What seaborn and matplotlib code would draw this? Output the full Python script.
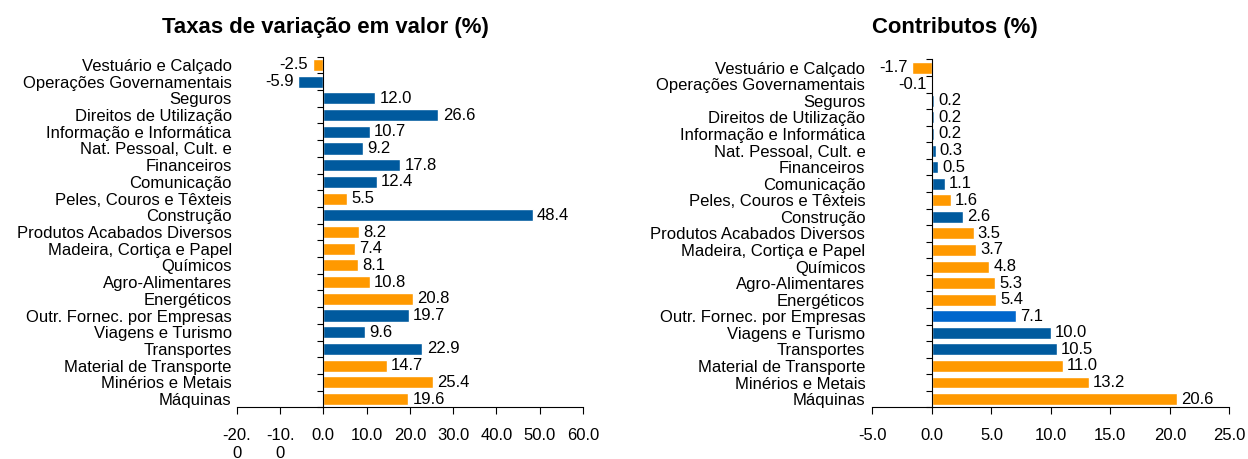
import numpy as np
import matplotlib
matplotlib.use('Agg')
import matplotlib.pyplot as plt
import seaborn as sns

# Dados (de cima para baixo)
categorias = ['Vestuário e Calçado', 'Operações Governamentais', 'Seguros',
              'Direitos de Utilização', 'Informação e Informática',
              'Nat. Pessoal, Cult. e', 'Financeiros', 'Comunicação',
              'Peles, Couros e Têxteis', 'Construção', 'Produtos Acabados Diversos',
              'Madeira, Cortiça e Papel', 'Químicos', 'Agro-Alimentares',
              'Energéticos', 'Outr. Fornec. por Empresas', 'Viagens e Turismo',
              'Transportes', 'Material de Transporte', 'Minérios e Metais', 'Máquinas']
tipo = ['Bens', 'Serviços', 'Serviços', 'Serviços', 'Serviços', 'Serviços',
        'Serviços', 'Serviços', 'Bens', 'Serviços', 'Bens', 'Bens', 'Bens', 'Bens',
        'Bens', 'Serviços', 'Serviços', 'Serviços', 'Bens', 'Bens', 'Bens']
taxas = [-2.5, -5.9, 12.0, 26.6, 10.7, 9.2, 17.8, 12.4, 5.5, 48.4, 8.2, 7.4,
         8.1, 10.8, 20.8, 19.7, 9.6, 22.9, 14.7, 25.4, 19.6]
contributos = [-1.7, -0.1, 0.2, 0.2, 0.2, 0.3, 0.5, 1.1, 1.6, 2.6, 3.5, 3.7,
               4.8, 5.3, 5.4, 7.1, 10.0, 10.5, 11.0, 13.2, 20.6]
destaque_contrib = 'Outr. Fornec. por Empresas'

ticks_taxas = [-20, -10, 0, 10, 20, 30, 40, 50, 60]
labels_taxas = ['-20.\n0', '-10.\n0', '0.0', '10.0', '20.0', '30.0', '40.0', '50.0', '60.0']
ticks_contrib = [-5, 0, 5, 10, 15, 20, 25]
labels_contrib = ['-5.0', '0.0', '5.0', '10.0', '15.0', '20.0', '25.0']

sns.set_style('ticks')
plt.rcParams['font.family'] = ['Liberation Sans', 'DejaVu Sans']
plt.rcParams['text.color'] = 'black'
plt.rcParams['xtick.color'] = 'black'
plt.rcParams['ytick.color'] = 'black'
plt.rcParams['axes.labelcolor'] = 'black'

cores = {'Bens': '#FF9900', 'Serviços': '#005A9E'}

fig = plt.figure(figsize=(12.48, 4.59), dpi=100)
ax1 = fig.add_axes([0.1897, 0.1125, 0.2775, 0.7641])
ax2 = fig.add_axes([0.6991, 0.1125, 0.2859, 0.7580])

FS = 12


def painel(ax, valores, ticks, labels, pad_y, destaque=None):
    sns.barplot(x=valores, y=categorias, hue=tipo, palette=cores, legend=False,
                orient='h', width=0.72, saturation=1, dodge=False, errorbar=None, ax=ax)
    if destaque is not None:
        i = categorias.index(destaque)
        for p in ax.patches:
            if abs(p.get_y() + p.get_height() / 2 - i) < 0.1:
                p.set_facecolor('#0066CC')
    # rótulos de valor na ponta de cada barra
    for i, v in enumerate(valores):
        ax.annotate(f'{v:.1f}', xy=(v, i), xytext=(3 if v >= 0 else -3, 0),
                    textcoords='offset points', ha='left' if v >= 0 else 'right',
                    va='center', fontsize=FS)
    ax.set_xlim(ticks[0], ticks[-1])
    ax.set_xticks(ticks)
    ax.set_xticklabels(labels, fontsize=FS, linespacing=1.25)
    ax.set_xlabel('')
    ax.set_ylabel('')
    ax.spines['top'].set_visible(False)
    ax.spines['right'].set_visible(False)
    ax.spines['left'].set_position(('data', 0))
    for s in ['left', 'bottom']:
        ax.spines[s].set_color('#000000')
        ax.spines[s].set_linewidth(0.8)
    ax.set_yticks(np.arange(-0.5, len(categorias), 1), minor=True)
    ax.tick_params(axis='y', which='major', length=0, pad=pad_y, labelsize=FS)
    ax.tick_params(axis='y', which='minor', length=4, width=0.8, direction='out')
    ax.tick_params(axis='x', which='major', length=5, width=0.8, direction='out', pad=10)
    for lab in ax.get_xticklabels():
        lab.set_verticalalignment('top')


painel(ax1, taxas, ticks_taxas, labels_taxas, 66)
painel(ax2, contributos, ticks_contrib, labels_contrib, 48, destaque_contrib)

fig.text(0.2604, 0.940, 'Taxas de variação em valor (%)', ha='center', va='center',
         fontsize=15.9, fontweight='bold')
fig.text(0.7652, 0.940, 'Contributos (%)', ha='center', va='center',
         fontsize=15.9, fontweight='bold')

fig.savefig('out.png', dpi=100)
